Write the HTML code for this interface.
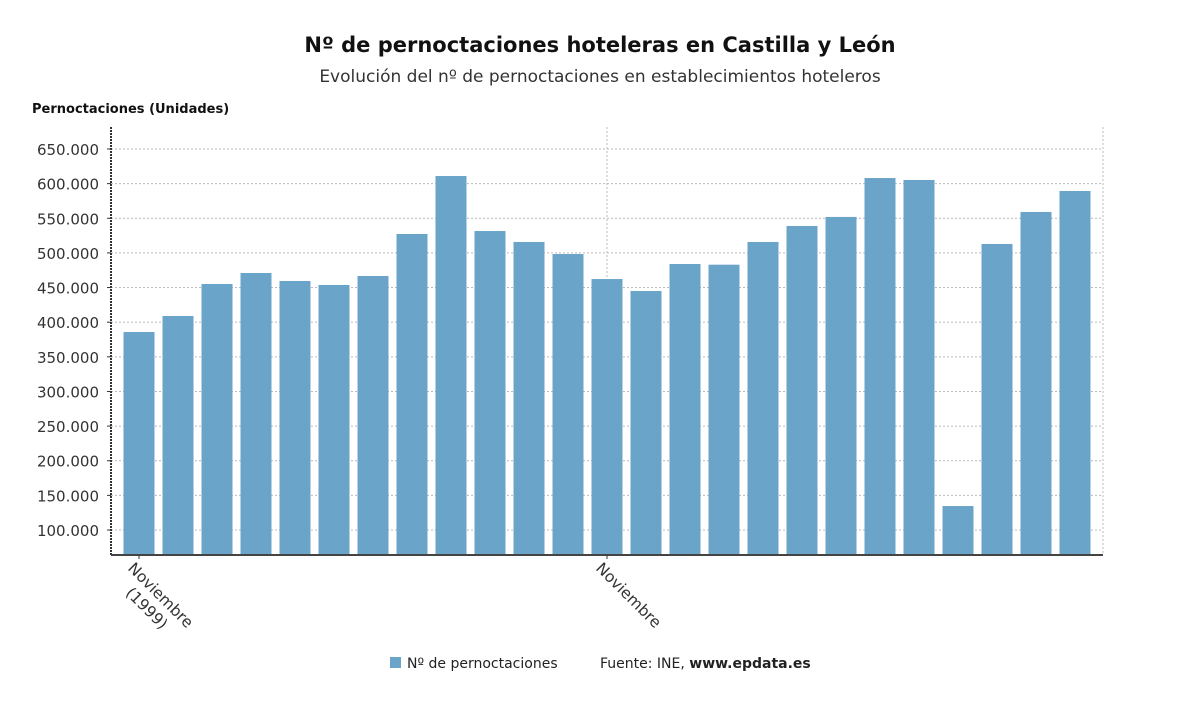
<!DOCTYPE html>
<html><head><meta charset="utf-8"><style>
body{margin:0;background:#fff;width:1200px;height:705px;overflow:hidden;font-family:"DejaVu Sans","Liberation Sans",sans-serif}
</style></head><body>
<svg id="chart" width="1200" height="705" xmlns="http://www.w3.org/2000/svg">
<text x="600" y="52" text-anchor="middle" font-size="21" font-weight="bold" fill="#111">Nº de pernoctaciones hoteleras en Castilla y León</text>
<text x="600" y="82" text-anchor="middle" font-size="17" fill="#333">Evolución del nº de pernoctaciones en establecimientos hoteleros</text>
<text x="32" y="113" font-size="13" font-weight="bold" fill="#111">Pernoctaciones (Unidades)</text>
<g id="grid"></g><g id="bars"></g><g id="axes"></g>
<g>
<rect x="390" y="657" width="11" height="11" fill="#6aa5c9"/>
<text x="407" y="668" font-size="14" fill="#222">Nº de pernoctaciones</text>
<text x="600" y="668" font-size="14" fill="#222">Fuente: INE, <tspan font-weight="bold">www.epdata.es</tspan></text>
</g>
</svg>
<script>
const values=[385800,408900,455100,471000,459500,453700,466700,527300,611000,531600,515800,498400,462300,445000,484000,483000,515800,538900,551900,608100,605300,134600,512900,559100,589400];
const yTicks=[100000,150000,200000,250000,300000,350000,400000,450000,500000,550000,600000,650000];
const xLabels=[[0,["Noviembre","(1999)"]],[12,["Noviembre"]]];
const NS="http://www.w3.org/2000/svg";
const L=111,R=1103,T=127,B=555;
const y=v=>530-(v-100000)/550000*381;
const x=i=>139+i*(1075-139)/(values.length-1);
function mk(t,a,p){const e=document.createElementNS(NS,t);for(const k in a)e.setAttribute(k,a[k]);p.appendChild(e);return e;}
const grid=document.getElementById('grid'),bars=document.getElementById('bars'),axes=document.getElementById('axes');
yTicks.forEach(v=>{
 const g=mk('line',{x1:L,x2:R,y1:y(v),y2:y(v),stroke:'#bbb','stroke-dasharray':'2,2'},grid);
 
 
 const t=mk('text',{x:99,y:y(v)+6,'text-anchor':'end','font-size':'15',fill:'#333'},axes);
 t.textContent=v.toLocaleString('de-DE');
 
 
 mk('line',{x1:L-4,x2:L,y1:y(v),y2:y(v),stroke:'#333'},axes);
});
[x(12),R].forEach(px=>{const g=mk('line',{x1:px,x2:px,y1:T,y2:B,stroke:'#bbb','stroke-dasharray':'2,2'},grid);
 
 });
values.forEach((v,i)=>{
 const r=mk('rect',{x:x(i)-15.5,y:y(v),width:31,height:B-y(v),fill:'#6aa5c9'},bars);
 
 
});
const ax=mk('line',{x1:L,x2:L,y1:T,y2:B,stroke:'#333','stroke-width':2,'stroke-dasharray':'2,1'},axes);


const bx=mk('line',{x1:L,x2:R,y1:B,y2:B,stroke:'#444','stroke-width':2},axes);


xLabels.forEach(([i,lines])=>{
 mk('line',{x1:x(i),x2:x(i),y1:B,y2:B+4,stroke:'#333'},axes);
 const t=mk('text',{transform:`translate(${x(i)-12},${B+14}) rotate(45)`,'font-size':'15.5',fill:'#333'},axes);
 
 
 lines.forEach((s,k)=>{const ts=mk('tspan',{x:k*16,dy:k?19:0},t);ts.textContent=s;});
});
</script>
</body></html>
